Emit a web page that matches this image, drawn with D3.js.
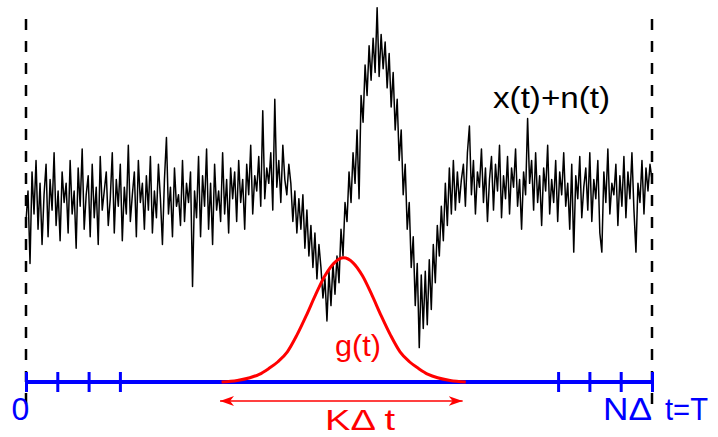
<!DOCTYPE html>
<html>
<head>
<meta charset="utf-8">
<script src="https://cdn.jsdelivr.net/npm/d3@7"></script>
<style>
  body { margin: 0; background: #fff; }
  text { font-family: "Liberation Sans", Arial, sans-serif; }
</style>
</head>
<body>
<div id="chart"></div>
<script>
// signal x(t)+n(t), one sample every ~2px (axis = 0, top = 100)
var signal = [
  42, 50, 31, 55, 44, 58, 40, 52, 36, 49, 57, 38, 53, 45, 60, 41, 50, 37, 55, 47,
  52, 39, 58, 44, 50, 35, 56, 46, 61, 40, 49, 54, 38, 57, 43, 51, 36, 59, 45, 50,
  55, 41, 48, 60, 39, 53, 46, 57, 37, 51, 44, 62, 42, 49, 55, 38, 58, 47, 52, 40,
  54, 45, 59, 39, 50, 43, 57, 48, 36, 53, 64, 44, 51, 38, 56, 46, 49, 41, 58, 42,
  52, 47, 55, 25, 50, 43, 59, 38, 54, 46, 61, 40, 52, 36, 57, 45, 50, 42, 60, 44, 53, 39, 56,
  48, 55, 42, 58, 47, 53, 40, 57, 49, 62, 44, 54, 50, 59, 46, 71, 48, 56, 52, 60,
  45, 74, 51, 58, 47, 62, 53, 49, 57,
  52, 42, 50, 39, 48, 40, 49, 35, 45, 33, 41, 30, 39, 27, 36,
  30, 22, 27, 16, 29, 20, 31, 23, 33, 26, 40, 33, 47, 42,
  55, 47, 60, 52, 66, 48, 75, 68, 83, 75, 88, 79, 90, 81, 98,
  80, 91, 82, 89, 77, 86, 72, 81, 66, 74, 58, 66, 49, 57, 40, 47, 30, 38, 20, 31,
  9, 28, 14, 29, 15, 32, 19, 36, 26, 41, 33, 46, 37, 52, 41, 56, 44, 58, 45, 55, 47, 53,
  57, 46, 60, 67, 49, 58, 44, 55, 51, 61, 47, 56, 42, 53, 59, 45, 57, 50, 62, 43,
  54, 48, 59, 44, 56, 51, 61, 46, 53, 40, 55, 49, 69, 52, 58, 45, 60, 47, 54, 41,
  56, 50, 62, 44, 53, 47, 58, 42, 55, 49, 60, 46, 52, 40, 57, 34, 54, 48, 59, 43,
  51, 56, 45, 60, 42, 53, 48, 58, 39, 34, 55, 47, 61, 44, 52, 49, 57, 41, 54, 46,
  59, 43, 55, 48, 60, 45, 34, 52, 47, 58, 44, 56, 50, 57, 53
];

// pulse g(t)
var gT = [6.25, 6.75, 7.15, 7.45, 7.75, 8.05, 8.35, 8.65, 8.95, 9.25, 9.55, 9.85, 10.15,
          10.45, 10.75, 11.05, 11.35, 11.65, 11.95, 12.25, 12.55, 12.85, 13.15, 13.55, 14.05];
var gV = [0, 0.4, 1.1, 2.0, 3.5, 5.3, 7.9, 12.2, 17.3, 22.8, 27.8, 31.2, 32.5,
          31.2, 27.8, 22.8, 17.3, 12.2, 7.9, 5.3, 3.5, 2.0, 1.1, 0.4, 0];

// time axis
var tMax = 20;
var tickVals = [0, 1, 2, 3, 17, 18, 19, 20];
var kSpan = [6.2, 13.95];

var svgWidth = 718;
var svgHeight = 437;

var svg = d3.select("#chart")
  .append("svg")
  .attr("width", svgWidth)
  .attr("height", svgHeight);

var x = d3.scaleLinear().domain([0, tMax]).range([26, 652]);
var y = d3.scaleLinear().domain([0, 100]).range([382, 0]);

var defs = svg.append("defs");
defs.append("marker")
  .attr("id", "arrow")
  .attr("viewBox", "0 -5 14 10")
  .attr("refX", 14)
  .attr("refY", 0)
  .attr("markerUnits", "userSpaceOnUse")
  .attr("markerWidth", 14)
  .attr("markerHeight", 10)
  .attr("orient", "auto-start-reverse")
  .append("path")
  .attr("d", "M0,-5 L14,0 L0,5 L4,0 Z")
  .attr("fill", "#ff0000");

// dashed boundaries at t=0 and t=T
svg.selectAll(".bound")
  .data([0, tMax])
  .enter()
  .append("line")
  .attr("class", "bound")
  .attr("x1", d => x(d))
  .attr("x2", d => x(d))
  .attr("y1", 19)
  .attr("y2", 405)
  .attr("stroke", "#000")
  .attr("stroke-width", 2.5)
  .attr("stroke-dasharray", "11,11");

// noisy signal
var line = d3.line()
  .x((d, i) => x(i * tMax / (signal.length - 1)))
  .y(d => y(d));

svg.append("path")
  .datum(signal)
  .attr("d", line)
  .attr("fill", "none")
  .attr("stroke", "#000")
  .attr("stroke-width", 1.5)
  .attr("stroke-linejoin", "round");

// blue time axis
svg.append("line")
  .attr("x1", x(0))
  .attr("x2", x(tMax))
  .attr("y1", y(0))
  .attr("y2", y(0))
  .attr("stroke", "#0000ff")
  .attr("stroke-width", 4);

var axis = svg.append("g")
  .attr("transform", `translate(0, ${y(0) - 10})`)
  .call(d3.axisBottom(x).tickValues(tickVals).tickSize(20).tickFormat(""));
axis.select(".domain").remove();
axis.selectAll(".tick line")
  .attr("stroke", "#0000ff")
  .attr("stroke-width", 3);

// pulse
var gLine = d3.line()
  .x((d, i) => x(gT[i]))
  .y(d => y(d))
  .curve(d3.curveMonotoneX);

svg.append("path")
  .datum(gV)
  .attr("d", gLine)
  .attr("fill", "none")
  .attr("stroke", "#ff0000")
  .attr("stroke-width", 3);

// K delta t arrow
svg.append("line")
  .attr("x1", x(kSpan[0]))
  .attr("x2", x(kSpan[1]))
  .attr("y1", 401)
  .attr("y2", 401)
  .attr("stroke", "#ff0000")
  .attr("stroke-width", 1.3)
  .attr("marker-start", "url(#arrow)")
  .attr("marker-end", "url(#arrow)");

// labels
svg.append("text")
  .attr("x", 493).attr("y", 108)
  .attr("font-size", 29)
  .attr("textLength", 117)
  .attr("lengthAdjust", "spacingAndGlyphs")
  .attr("fill", "#000")
  .text("x(t)+n(t)");

svg.append("text")
  .attr("x", 335).attr("y", 356)
  .attr("font-size", 30)
  .attr("textLength", 46)
  .attr("lengthAdjust", "spacingAndGlyphs")
  .attr("fill", "#ff0000")
  .text("g(t)");

svg.append("text")
  .attr("x", 325).attr("y", 430)
  .attr("font-size", 30)
  .attr("textLength", 70)
  .attr("lengthAdjust", "spacingAndGlyphs")
  .attr("fill", "#ff0000")
  .text("KΔ t");

svg.append("text")
  .attr("x", 20.5).attr("y", 420)
  .attr("font-size", 32)
  .attr("text-anchor", "middle")
  .attr("fill", "#0000ff")
  .text("0");

svg.append("text")
  .attr("x", 603).attr("y", 420)
  .attr("font-size", 32)
  .attr("textLength", 49)
  .attr("lengthAdjust", "spacingAndGlyphs")
  .attr("fill", "#0000ff")
  .text("NΔ");

svg.append("text")
  .attr("x", 665).attr("y", 420)
  .attr("font-size", 32)
  .attr("textLength", 43)
  .attr("lengthAdjust", "spacingAndGlyphs")
  .attr("fill", "#0000ff")
  .text("t=T");
</script>
</body>
</html>
